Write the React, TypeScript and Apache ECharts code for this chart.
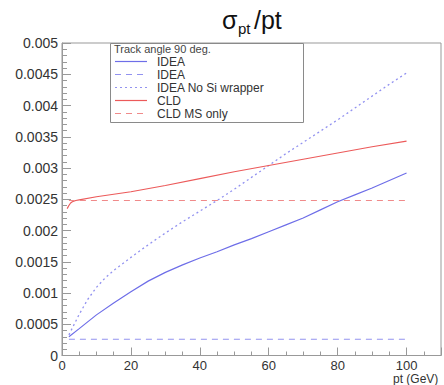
import React, { useEffect, useRef } from "react";
import * as echarts from "echarts";

const yTicks = [0, 0.0005, 0.001, 0.0015, 0.002, 0.0025, 0.003, 0.0035, 0.004, 0.0045, 0.005];
const xTicks = [0, 20, 40, 60, 80, 100];

const ideaX = [2, 5, 10, 15, 20, 25, 30, 35, 40, 45, 50, 55, 60, 65, 70, 75, 80, 85, 90, 95, 100];
const ideaY = [0.0003, 0.00043, 0.00065, 0.00084, 0.00102, 0.00119, 0.00133, 0.00145, 0.00156, 0.00166, 0.00177, 0.00187, 0.00198, 0.00209, 0.0022, 0.00233, 0.00246, 0.00257, 0.00268, 0.0028, 0.00292];

const ideaMsX = [2, 100];
const ideaMsY = [0.00026, 0.00026];

const ideaNoSiX = [2, 5, 7.5, 10, 12.5, 15, 20, 25, 30, 35, 40, 45, 50, 55, 60, 65, 70, 75, 80, 85, 90, 95, 100];
const ideaNoSiY = [0.00033, 0.00066, 0.0009, 0.00109, 0.00124, 0.00136, 0.00157, 0.00177, 0.00196, 0.00214, 0.00231, 0.00248, 0.00266, 0.00285, 0.00304, 0.00323, 0.00341, 0.00359, 0.00377, 0.00396, 0.00415, 0.00434, 0.00452];

const cldX = [1.5, 2, 2.5, 3, 4, 5, 10, 20, 30, 40, 50, 60, 70, 80, 90, 100];
const cldY = [0.00235, 0.0024, 0.00244, 0.00246, 0.00248, 0.00249, 0.00254, 0.00262, 0.00272, 0.00283, 0.00294, 0.00304, 0.00314, 0.00324, 0.00334, 0.00343];

const cldMsX = [2, 100];
const cldMsY = [0.00248, 0.00248];

const legendItems = ["IDEA", "IDEA", "IDEA No Si wrapper", "CLD", "CLD MS only"];
const legendTitle = "Track angle 90 deg.";

const BLUE = "#6e6ee8";
const BLUE_L = "#9292f0";
const RED = "#ec5a5a";
const RED_L = "#f08a8a";

const styles: any[] = [
  { color: BLUE, type: "solid", width: 1.2 },
  { color: BLUE_L, type: [6, 5], width: 1.2 },
  { color: BLUE_L, type: [2, 3], width: 1.3 },
  { color: RED, type: "solid", width: 1.2 },
  { color: RED_L, type: [6, 5], width: 1.2 },
];

const zip = (xs: number[], ys: number[]) => xs.map((x, i) => [x, ys[i]]);

export default function App() {
  const ref = useRef<HTMLDivElement>(null);
  useEffect(() => {
    if (!ref.current) return;
    const chart = echarts.init(ref.current, undefined, { renderer: "svg" });
    const seriesData = [
      zip(ideaX, ideaY),
      zip(ideaMsX, ideaMsY),
      zip(ideaNoSiX, ideaNoSiY),
      zip(cldX, cldY),
      zip(cldMsX, cldMsY),
    ];
    const font = "Liberation Sans, Arial, sans-serif";
    const legendGraphics: any[] = [
      {
        type: "rect",
        shape: { x: 110.5, y: 43.5, width: 193, height: 79 },
        style: { fill: "#fff", stroke: "#8a8a8a", lineWidth: 1 },
        z: 100,
      },
      {
        type: "text",
        x: 114,
        y: 49,
        style: { text: legendTitle, fontSize: 11, fontFamily: font, fill: "#444", verticalAlign: "middle" },
        z: 101,
      },
    ];
    const rowY = [61.5, 74.5, 87.5, 100.5, 113.5];
    legendItems.forEach((name, i) => {
      const st: any = { stroke: styles[i].color, lineWidth: 1.2 };
      if (styles[i].type !== "solid") st.lineDash = styles[i].type;
      legendGraphics.push({
        type: "line",
        shape: { x1: 115, y1: rowY[i], x2: 147, y2: rowY[i] },
        style: st,
        z: 101,
      });
      legendGraphics.push({
        type: "text",
        x: 157,
        y: rowY[i],
        style: { text: name, fontSize: 12, fontFamily: font, fill: "#333", verticalAlign: "middle" },
        z: 101,
      });
    });
    chart.setOption({
      animation: false,
      backgroundColor: "#fff",
      grid: {
        left: 62,
        right: -3,
        top: 43,
        bottom: 29.5,
        show: true,
        borderColor: "#999",
        borderWidth: 1,
      },
      xAxis: {
        type: "value",
        min: 0,
        max: 110,
        interval: 20,
        axisLine: { show: true, onZero: false, lineStyle: { color: "#999" } },
        axisTick: { show: true, inside: true, length: 8, lineStyle: { color: "#999" } },
        minorTick: { show: true, splitNumber: 4, length: 4, lineStyle: { color: "#999" } },
        splitLine: { show: false },
        axisLabel: {
          fontSize: 13,
          fontFamily: font,
          color: "#333",
          margin: 3,
          formatter: (v: number) => (xTicks.includes(v) ? String(v) : ""),
        },
      },
      yAxis: {
        type: "value",
        min: yTicks[0],
        max: yTicks[yTicks.length - 1],
        interval: 0.0005,
        axisLine: { show: true, lineStyle: { color: "#999" } },
        axisTick: { show: true, inside: true, length: 9, lineStyle: { color: "#999" } },
        minorTick: { show: true, splitNumber: 5, length: 5, lineStyle: { color: "#999" } },
        splitLine: { show: false },
        axisLabel: {
          fontSize: 14,
          fontFamily: font,
          color: "#333",
          margin: 4,
          formatter: (v: number) => (v === 0 ? "0" : String(+v.toFixed(4))),
        },
      },
      series: seriesData.map((d, i) => ({
        type: "line",
        data: d,
        showSymbol: false,
        symbol: "none",
        lineStyle: styles[i],
        z: 2,
      })),
      graphic: [
        {
          type: "text",
          x: 222,
          y: 20,
          style: { text: "σ", fontSize: 25, fontFamily: font, fill: "#111", verticalAlign: "middle" },
        },
        {
          type: "text",
          x: 238,
          y: 28,
          style: { text: "pt", fontSize: 15, fontFamily: font, fill: "#111", verticalAlign: "middle" },
        },
        {
          type: "text",
          x: 254,
          y: 20,
          style: { text: "/pt", fontSize: 25, fontFamily: font, fill: "#111", verticalAlign: "middle" },
        },
        {
          type: "text",
          x: 393,
          y: 379,
          style: { text: "pt (GeV)", fontSize: 12, fontFamily: font, fill: "#333", verticalAlign: "middle" },
        },
        ...legendGraphics,
      ],
    });
    return () => chart.dispose();
  }, []);
  return <div ref={ref} style={{ width: 444, height: 385, position: "absolute", left: 0, top: 0 }} />;
}
